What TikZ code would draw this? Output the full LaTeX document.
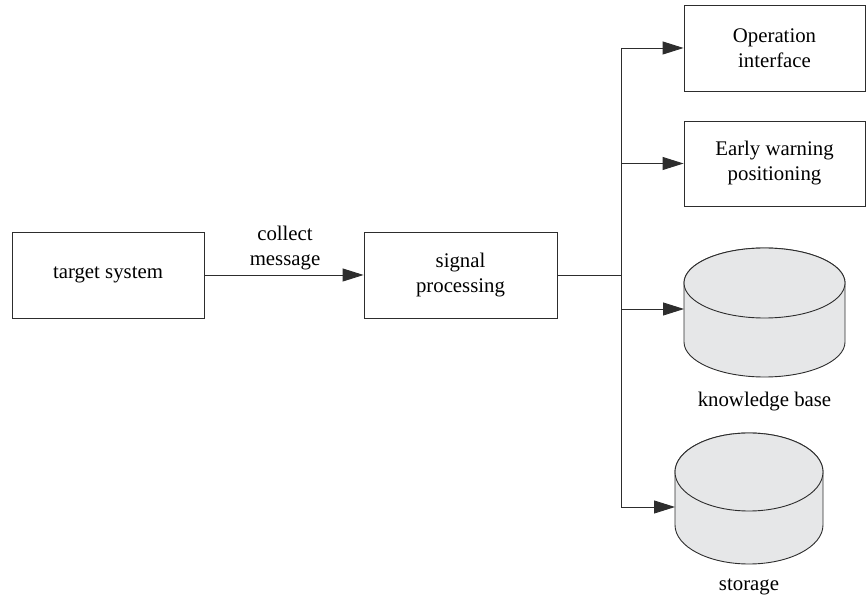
\documentclass[tikz,border=0pt]{standalone}
\usepackage{fontspec}
\setmainfont{Liberation Serif}
\usetikzlibrary{arrows.meta}
\definecolor{lin}{RGB}{45,45,45}
\definecolor{cylfill}{RGB}{230,231,232}
\tikzset{
  box/.style={draw=lin, line width=0.9pt, inner sep=0pt, align=center, font=\fontsize{20.8}{25}\selectfont},
  lbl/.style={inner sep=0pt, align=center, font=\fontsize{20.8}{25}\selectfont},
  conn/.style={draw=lin, line width=0.9pt},
  arr/.style={conn, -{Triangle[length=21pt,width=13pt]}},
  cyl/.style={draw=lin, line width=0.9pt, fill=cylfill}
}
\begin{document}
\begin{tikzpicture}[x=1pt,y=1pt]
\useasboundingbox (0,0) rectangle (867,602);
% boxes
\node[box, minimum width=192pt, minimum height=86pt] (target) at (108,327) {target system};
\node[box, minimum width=193pt, minimum height=86pt] (signal) at (460.5,327) {signal\\processing};
\node[box, minimum width=181pt, minimum height=86pt] (op) at (774.5,554) {Operation\\interface};
\node[box, minimum width=181pt, minimum height=85pt] (early) at (774.5,438.5) {Early warning\\positioning};
\node[lbl] (collect) at (285,354) {collect\\message};
% knowledge base cylinder
\path[cyl] (684,319) -- (684,260) arc[start angle=180,end angle=360,x radius=80.5,y radius=35] -- (845,319) arc[start angle=0,end angle=180,x radius=80.5,y radius=35] -- cycle;
\draw[cyl] (764.5,319) ellipse[x radius=80.5,y radius=35];
\coordinate (kbin) at (684,293);
\node[lbl] (kblabel) at (764.5,200) {knowledge base};
% storage cylinder
\path[cyl] (675,130) -- (675,77) arc[start angle=180,end angle=360,x radius=74,y radius=39] -- (823,130) arc[start angle=0,end angle=180,x radius=74,y radius=39] -- cycle;
\draw[cyl] (749,130) ellipse[x radius=74,y radius=39];
\coordinate (stin) at (675,95);
\node[lbl] (stlabel) at (749,15) {storage};
% connectors
\coordinate (j) at (621,327);
\coordinate (jtop) at (621,554);
\coordinate (jbot) at (621,95);
\draw[arr] (target.east) -- (signal.west);
\draw[conn] (signal.east) -- (j);
\draw[conn] (jtop) -- (jbot);
\draw[arr] (jtop) -- (op.west);
\draw[arr] (jtop |- early.west) -- (early.west);
\draw[arr] (jtop |- kbin) -- (kbin);
\draw[arr] (jbot) -- (stin);
\end{tikzpicture}
\end{document}
